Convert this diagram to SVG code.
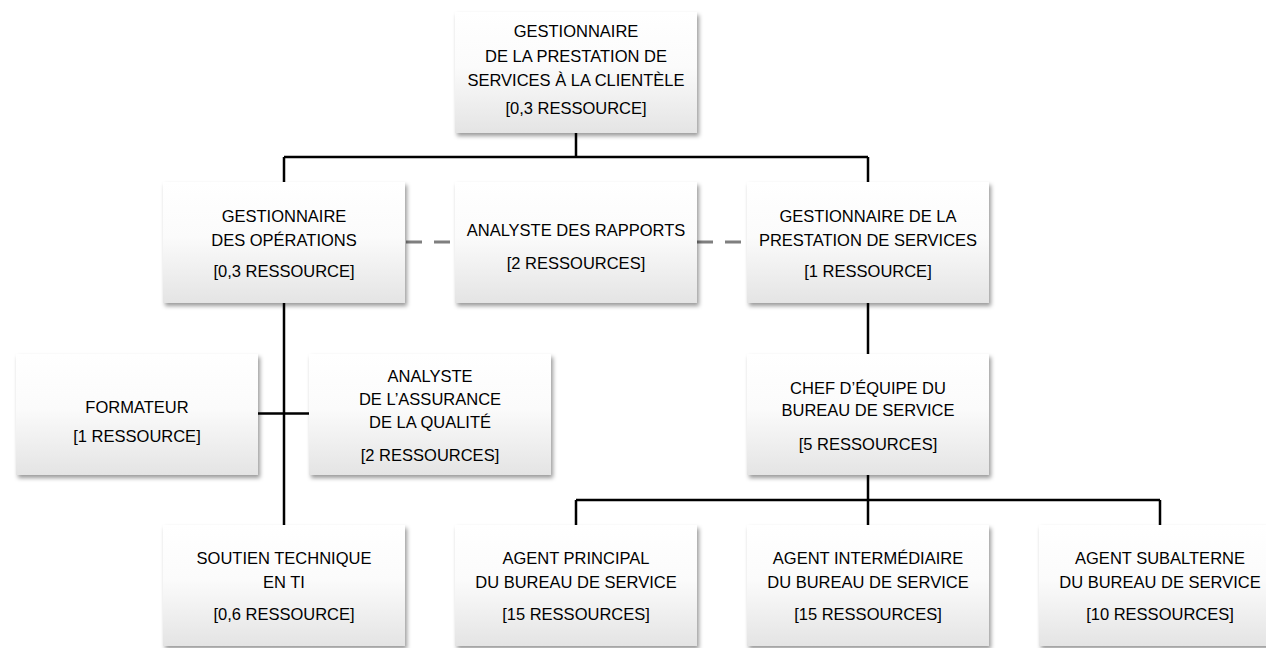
<svg xmlns="http://www.w3.org/2000/svg" width="1266" height="648" viewBox="0 0 1266 648">
  <defs>
    <linearGradient id="boxGrad" x1="0" y1="0" x2="0" y2="1">
      <stop offset="0" stop-color="#ffffff"/>
      <stop offset="0.45" stop-color="#fbfbfb"/>
      <stop offset="1" stop-color="#e4e4e4"/>
    </linearGradient>
    <filter id="shadow" x="-10%" y="-10%" width="125%" height="130%">
      <feDropShadow dx="2" dy="3" stdDeviation="2" flood-color="#000" flood-opacity="0.4"/>
    </filter>
  </defs>
  <style>
    .box { fill: url(#boxGrad); filter: url(#shadow); }
    .t { font-family: "Liberation Sans", Arial, sans-serif; font-size: 16.5px; fill: #000; text-anchor: middle; }
    .line { stroke: #000; stroke-width: 2.5; fill: none; }
    .dash { stroke: #7f7f7f; stroke-width: 3; fill: none; stroke-dasharray: 16 12; }
  </style>
  <rect width="1266" height="648" fill="#fff"/>

  <g id="connectors">
    <path class="line" d="M576 132 V157 M284 157 H868 M284 157 V182 M868 157 V182"/>
    <path class="line" d="M284 303 V525 M258 413.5 H309"/>
    <path class="line" d="M868 303 V354 M868 475 V500 M576 500 H1160 M576 500 V525 M868 500 V525 M1160 500 V525"/>
    <path class="dash" d="M406 242 H455"/>
    <path class="dash" d="M697 242 H747"/>
  </g>

  <g id="node-gestionnaire-clientele">
    <rect class="box" x="455" y="12" width="242" height="121"/>
    <text class="t" x="576" y="37">GESTIONNAIRE</text>
    <text class="t" x="576" y="61.5">DE LA PRESTATION DE</text>
    <text class="t" x="576" y="86">SERVICES À LA CLIENTÈLE</text>
    <text class="t" x="576" y="114">[0,3 RESSOURCE]</text>
  </g>

  <g id="node-gestionnaire-operations">
    <rect class="box" x="163" y="182" width="242" height="121"/>
    <text class="t" x="284" y="222">GESTIONNAIRE</text>
    <text class="t" x="284" y="246">DES OPÉRATIONS</text>
    <text class="t" x="284" y="277">[0,3 RESSOURCE]</text>
  </g>

  <g id="node-analyste-rapports">
    <rect class="box" x="455" y="182" width="242" height="121"/>
    <text class="t" x="576" y="236">ANALYSTE DES RAPPORTS</text>
    <text class="t" x="576" y="269">[2 RESSOURCES]</text>
  </g>

  <g id="node-gestionnaire-prestation">
    <rect class="box" x="747" y="182" width="242" height="121"/>
    <text class="t" x="868" y="222">GESTIONNAIRE DE LA</text>
    <text class="t" x="868" y="246">PRESTATION DE SERVICES</text>
    <text class="t" x="868" y="277">[1 RESSOURCE]</text>
  </g>

  <g id="node-formateur">
    <rect class="box" x="16" y="354" width="242" height="121"/>
    <text class="t" x="137" y="413">FORMATEUR</text>
    <text class="t" x="137" y="442">[1 RESSOURCE]</text>
  </g>

  <g id="node-analyste-qualite">
    <rect class="box" x="309" y="354" width="242" height="121"/>
    <text class="t" x="430" y="382">ANALYSTE</text>
    <text class="t" x="430" y="405">DE L’ASSURANCE</text>
    <text class="t" x="430" y="428">DE LA QUALITÉ</text>
    <text class="t" x="430" y="461">[2 RESSOURCES]</text>
  </g>

  <g id="node-chef-equipe">
    <rect class="box" x="747" y="354" width="242" height="121"/>
    <text class="t" x="868" y="394">CHEF D’ÉQUIPE DU</text>
    <text class="t" x="868" y="416">BUREAU DE SERVICE</text>
    <text class="t" x="868" y="450">[5 RESSOURCES]</text>
  </g>

  <g id="node-soutien-technique">
    <rect class="box" x="163" y="525" width="242" height="121"/>
    <text class="t" x="284" y="564">SOUTIEN TECHNIQUE</text>
    <text class="t" x="284" y="588">EN TI</text>
    <text class="t" x="284" y="620">[0,6 RESSOURCE]</text>
  </g>

  <g id="node-agent-principal">
    <rect class="box" x="455" y="525" width="242" height="121"/>
    <text class="t" x="576" y="564">AGENT PRINCIPAL</text>
    <text class="t" x="576" y="588">DU BUREAU DE SERVICE</text>
    <text class="t" x="576" y="620">[15 RESSOURCES]</text>
  </g>

  <g id="node-agent-intermediaire">
    <rect class="box" x="747" y="525" width="242" height="121"/>
    <text class="t" x="868" y="564">AGENT INTERMÉDIAIRE</text>
    <text class="t" x="868" y="588">DU BUREAU DE SERVICE</text>
    <text class="t" x="868" y="620">[15 RESSOURCES]</text>
  </g>

  <g id="node-agent-subalterne">
    <rect class="box" x="1039" y="525" width="242" height="121"/>
    <text class="t" x="1160" y="564">AGENT SUBALTERNE</text>
    <text class="t" x="1160" y="588">DU BUREAU DE SERVICE</text>
    <text class="t" x="1160" y="620">[10 RESSOURCES]</text>
  </g>
</svg>
